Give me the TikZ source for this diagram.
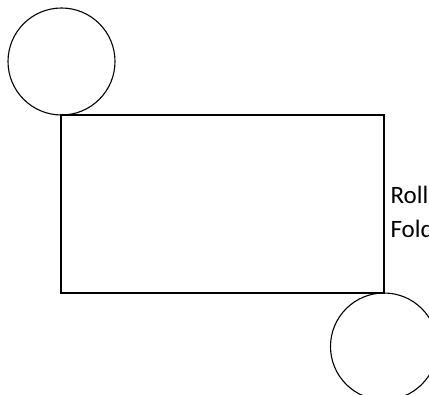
\documentclass[tikz,border=0pt]{standalone}
\usepackage{fontspec}
\setmainfont{Carlito}
\begin{document}
\begin{tikzpicture}[x=1pt,y=-1pt,line width=1.1pt,
  roll/.style={circle,draw,minimum size=107pt,inner sep=0pt},
  lbl/.style={anchor=base west,inner sep=0pt,font=\fontsize{25}{34}\selectfont}]
\useasboundingbox (0,0) rectangle (429,395);
\clip (0,0) rectangle (429,395);
\coordinate (tl) at (61,115);
\coordinate (tr) at (384,115);
\coordinate (br) at (384,293);
\coordinate (bl) at (61,293);
\draw (tl) -- (tr) -- (br) -- (bl) -- cycle;
\node[roll] (c1) at (61.5,61.5) {};
\node[roll] (c2) at (384,346.5) {};
\node[lbl] (t1) at (390,204) {Roller};
\node[lbl] (t2) at (390,238) {Folder};
\end{tikzpicture}
\end{document}
